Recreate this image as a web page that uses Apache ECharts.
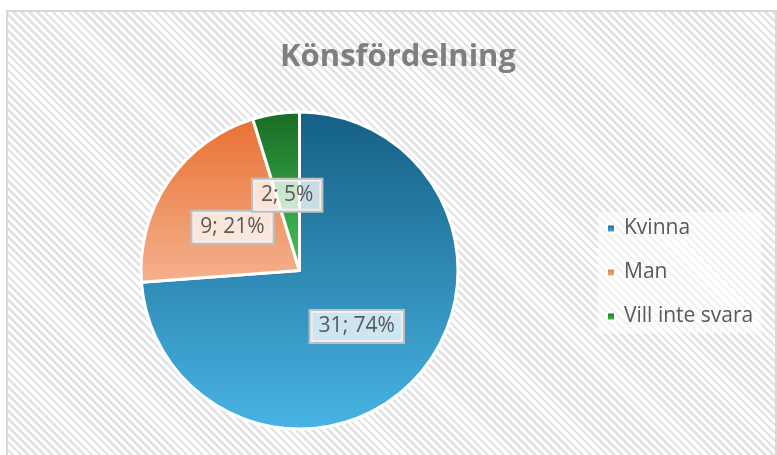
<!DOCTYPE html>
<html>
<head>
<meta charset="utf-8">
<script src="https://cdn.jsdelivr.net/npm/echarts@6/dist/echarts.min.js"></script>
<style>
  html, body { margin: 0; padding: 0; background: #ffffff; }
  #wrap { position: relative; width: 777px; height: 455px; overflow: hidden; background: #fff; }
  #bg {
    position: absolute; left: 6px; top: 10px; width: 767px; height: 460px;
    border-left: 2px solid #d9d9d9; border-top: 2px solid #d9d9d9; border-right: 2px solid #d9d9d9;
    background: repeating-linear-gradient(45deg, #ffffff 0px, #ffffff 3px, #e4e4e4 3px, #e4e4e4 5.6px);
  }
  #chart { position: absolute; left: 0; top: 0; width: 777px; height: 455px; }
</style>
</head>
<body>
<div id="wrap">
  <div id="bg"></div>
  <div id="chart"></div>
</div>
<script>
const titleText = 'Könsfördelning';
const categories = ['Kvinna', 'Man', 'Vill inte svara'];
const values = [31, 9, 2];
const topColors = ['#155f83', '#e97132', '#196b24'];
const bottomColors = ['#48b4e4', '#f4b28f', '#45c45b'];
const labelShift = [[-3, 0], [1, 3], [0, 6]];

function grad(i) {
  return new echarts.graphic.LinearGradient(0, 0, 0, 1, [
    { offset: 0, color: topColors[i] },
    { offset: 1, color: bottomColors[i] }
  ]);
}

const chart = echarts.init(document.getElementById('chart'), null, { renderer: 'canvas' });
chart.setOption({
  animation: false,
  backgroundColor: 'transparent',
  title: {
    text: titleText,
    left: 393, top: 37, textAlign: 'center',
    textStyle: { fontFamily: 'Open Sans', fontWeight: 'bold', fontSize: 31, color: '#7f7f7f' }
  },
  legend: {
    orient: 'vertical',
    left: 598, top: 212,
    icon: 'rect', itemWidth: 8, itemHeight: 8, itemGap: 23,
    padding: [6, 8, 6, 8],
    backgroundColor: 'rgba(255,255,255,0.55)',
    textStyle: { fontFamily: 'Open Sans', fontSize: 21, color: '#595959', padding: [0, 0, 0, 4] },
    data: categories
  },
  series: [{
    type: 'pie',
    center: [299.5, 270.5],
    radius: [0, 158.5],
    startAngle: 90,
    clockwise: true,
    itemStyle: { borderColor: '#ffffff', borderWidth: 3 },
    label: {
      position: 'inside',
      fontFamily: 'Open Sans', fontSize: 21, color: '#595959',
      backgroundColor: 'rgba(255,255,255,0.75)',
      borderColor: '#bfbfbf', borderWidth: 2,
      padding: [5, 8, 5, 8],
      formatter: p => p.value + '; ' + Math.round(p.percent) + '%'
    },
    labelLayout: p => ({ dx: labelShift[p.dataIndex][0], dy: labelShift[p.dataIndex][1] }),
    labelLine: { show: false },
    emphasis: { disabled: true },
    data: categories.map((c, i) => ({
      name: c, value: values[i],
      itemStyle: { color: grad(i) }
    }))
  }]
});
</script>
</body>
</html>
